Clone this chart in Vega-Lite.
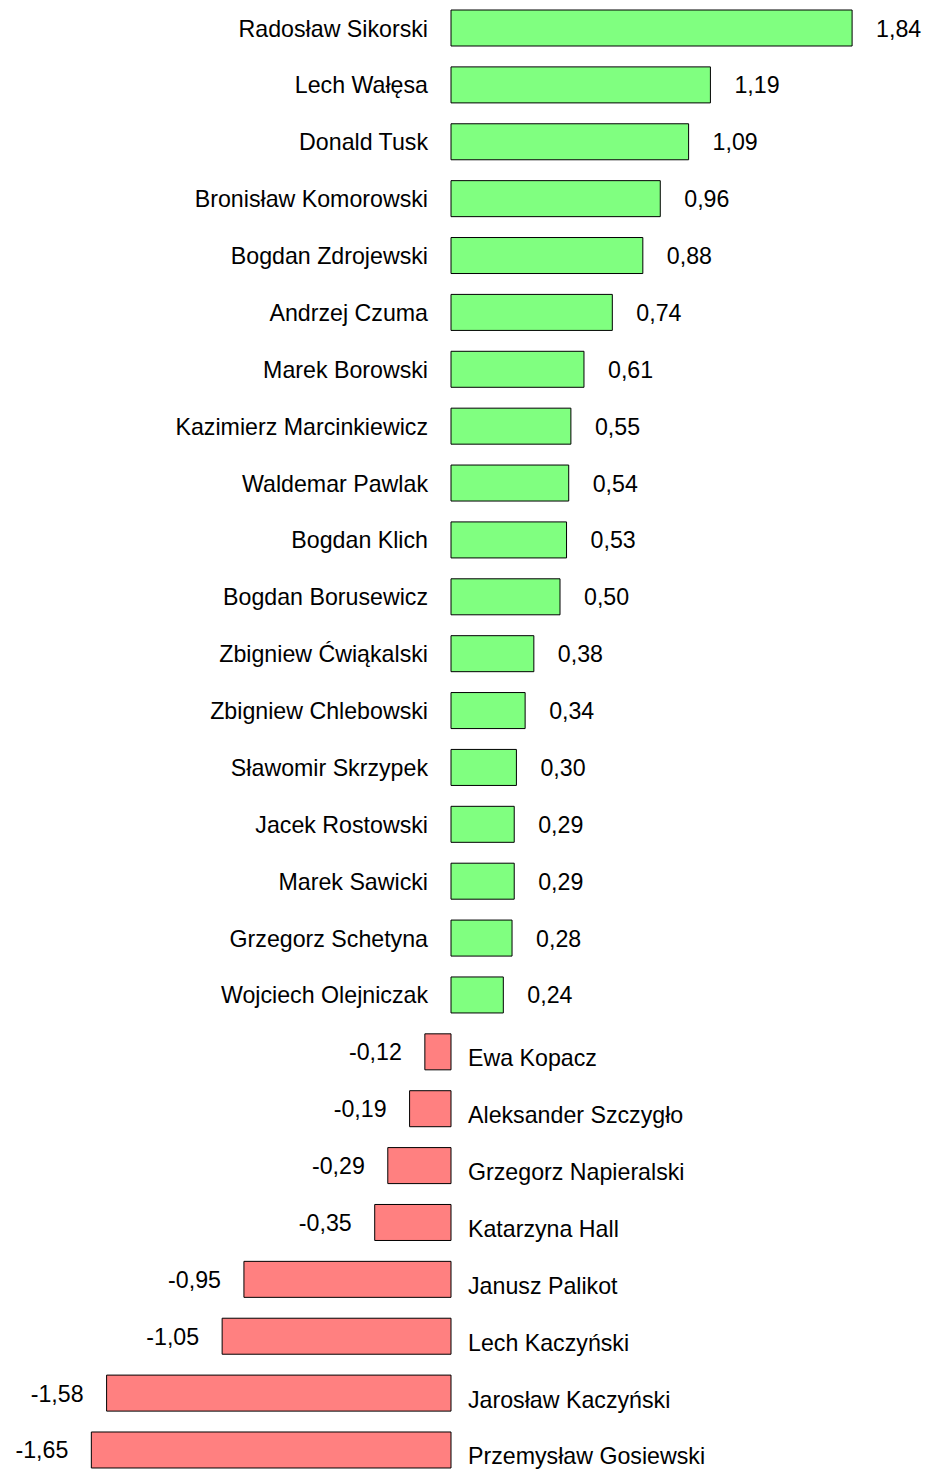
{
  "$schema": "https://vega.github.io/schema/vega-lite/v6.json",
  "width": 926,
  "height": 1478,
  "padding": 0,
  "autosize": {"type": "none"},
  "background": "white",
  "config": {
    "view": {"stroke": null},
    "font": "Liberation Sans",
    "locale": {"number": {"decimal": ",", "thousands": " ", "grouping": [3], "currency": ["", ""], "minus": "-"}},
    "text": {"font": "Liberation Sans", "fontSize": 23.2, "color": "black", "baseline": "middle"}
  },
  "data": {
    "values": [
      {"name": "Radosław Sikorski", "value": 1.84},
      {"name": "Lech Wałęsa", "value": 1.19},
      {"name": "Donald Tusk", "value": 1.09},
      {"name": "Bronisław Komorowski", "value": 0.96},
      {"name": "Bogdan Zdrojewski", "value": 0.88},
      {"name": "Andrzej Czuma", "value": 0.74},
      {"name": "Marek Borowski", "value": 0.61},
      {"name": "Kazimierz Marcinkiewicz", "value": 0.55},
      {"name": "Waldemar Pawlak", "value": 0.54},
      {"name": "Bogdan Klich", "value": 0.53},
      {"name": "Bogdan Borusewicz", "value": 0.50},
      {"name": "Zbigniew Ćwiąkalski", "value": 0.38},
      {"name": "Zbigniew Chlebowski", "value": 0.34},
      {"name": "Sławomir Skrzypek", "value": 0.30},
      {"name": "Jacek Rostowski", "value": 0.29},
      {"name": "Marek Sawicki", "value": 0.29},
      {"name": "Grzegorz Schetyna", "value": 0.28},
      {"name": "Wojciech Olejniczak", "value": 0.24},
      {"name": "Ewa Kopacz", "value": -0.12},
      {"name": "Aleksander Szczygło", "value": -0.19},
      {"name": "Grzegorz Napieralski", "value": -0.29},
      {"name": "Katarzyna Hall", "value": -0.35},
      {"name": "Janusz Palikot", "value": -0.95},
      {"name": "Lech Kaczyński", "value": -1.05},
      {"name": "Jarosław Kaczyński", "value": -1.58},
      {"name": "Przemysław Gosiewski", "value": -1.65}
    ]
  },
  "encoding": {
    "y": {
      "field": "name",
      "type": "nominal",
      "sort": null,
      "axis": null,
      "scale": {"paddingInner": 0.367, "paddingOuter": 0.176}
    }
  },
  "layer": [
    {
      "mark": {"type": "bar", "stroke": "black", "strokeWidth": 1},
      "encoding": {
        "x": {"field": "value", "type": "quantitative", "axis": null, "scale": {"domain": [-2.069, 2.179], "nice": false, "zero": false}},
        "color": {"condition": {"test": "datum.value >= 0", "value": "#80FF80"}, "value": "#FF8080"}
      }
    },
    {
      "transform": [{"filter": "datum.value >= 0"}],
      "mark": {"type": "text", "align": "right", "dx": -23, "dy": 1.5},
      "encoding": {
        "x": {"datum": 0, "type": "quantitative"},
        "text": {"field": "name"}
      }
    },
    {
      "transform": [{"filter": "datum.value >= 0"}],
      "mark": {"type": "text", "align": "left", "dx": 24, "dy": 1.5},
      "encoding": {
        "x": {"field": "value", "type": "quantitative"},
        "text": {"field": "value", "type": "quantitative", "format": ".2f"}
      }
    },
    {
      "transform": [{"filter": "datum.value < 0"}],
      "mark": {"type": "text", "align": "left", "dx": 17, "dy": 7.5},
      "encoding": {
        "x": {"datum": 0, "type": "quantitative"},
        "text": {"field": "name"}
      }
    },
    {
      "transform": [{"filter": "datum.value < 0"}],
      "mark": {"type": "text", "align": "right", "dx": -23, "dy": 1.5},
      "encoding": {
        "x": {"field": "value", "type": "quantitative"},
        "text": {"field": "value", "type": "quantitative", "format": ".2f"}
      }
    }
  ]
}
